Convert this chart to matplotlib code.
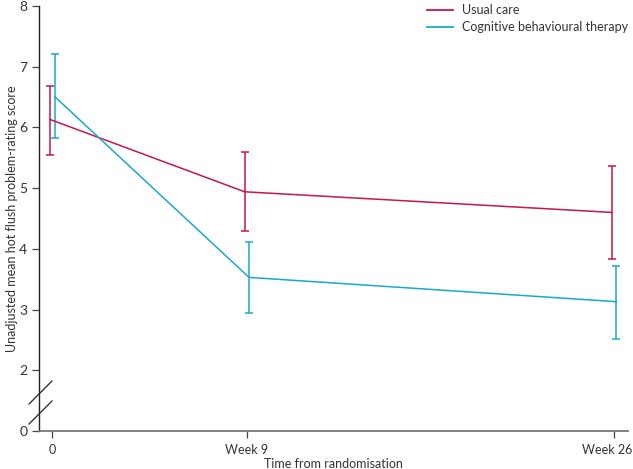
import matplotlib
matplotlib.use('Agg')
import matplotlib.pyplot as plt
import matplotlib.transforms as mtransforms
from matplotlib.lines import Line2D
import numpy as np

plt.rcParams['font.family'] = ['Lato', 'DejaVu Sans']

weeks = [0, 9, 26]
week_labels = ['0', 'Week 9', 'Week 26']

usual_mean = [6.13, 4.94, 4.60]
usual_low = [5.54, 4.29, 3.83]
usual_high = [6.68, 5.59, 5.37]

cbt_mean = [6.51, 3.53, 3.13]
cbt_low = [5.83, 2.94, 2.51]
cbt_high = [7.21, 4.12, 3.72]

# y ticks: bottom of the axis (broken) is labelled 0
ytick_pos = [1, 2, 3, 4, 5, 6, 7, 8]
ytick_labels = ['0', '2', '3', '4', '5', '6', '7', '8']

red = '#c2184d'
blue = '#1aa9c9'
text_col = '#333333'

W, H = 633, 469
fig = plt.figure(figsize=(W / 100, H / 100), dpi=100)
ax = fig.add_axes([39 / W, (H - 431) / H, (628 - 39) / W, (431 - 6) / H])

offset = 0.1
series = [
    ('Usual care', usual_mean, usual_low, usual_high, red, -offset),
    ('Cognitive behavioural therapy', cbt_mean, cbt_low, cbt_high, blue, offset),
]
for name, m, lo, hi, col, dx in series:
    x = np.array(weeks) + dx
    m = np.array(m)
    err = [m - np.array(lo), np.array(hi) - m]
    ax.errorbar(x, m, yerr=err, color=col, lw=1.1, elinewidth=1.1,
                capsize=3, capthick=1.1, label=name)

ax.set_xlim(-0.62, 26.64)
ax.set_ylim(1, 8)
ax.set_xticks(weeks)
ax.set_xticklabels(week_labels)
ax.set_yticks(ytick_pos)
ax.set_yticklabels(ytick_labels)

for s in ['top', 'right']:
    ax.spines[s].set_visible(False)
ax.spines['left'].set_color('#222222')
ax.spines['left'].set_linewidth(1.0)
ax.spines['bottom'].set_color('#777777')
ax.spines['bottom'].set_linewidth(1.3)
ax.tick_params(axis='both', direction='out', length=5, width=0.9,
               color='#444444', labelcolor=text_col, labelsize=9)
ax.tick_params(axis='x', pad=4)
ax.tick_params(axis='y', labelsize=10)

# last x label sits a little left of its tick, as in the original
last = ax.get_xticklabels()[-1]
last.set_transform(last.get_transform() +
                   mtransforms.ScaledTranslation(-5 / 72, 0, fig.dpi_scale_trans))

ax.set_xlabel('Time from randomisation', color=text_col, fontsize=9, labelpad=2)
ax.set_ylabel('Unadjusted mean hot flush problem-rating score', color=text_col,
              fontsize=9)
ax.yaxis.set_label_coords(-0.036, 0.5)

# axis break marks
for yc in [392.5, 412.5]:
    x0, x1 = 29, 52
    fig.add_artist(Line2D([x0 / W, x1 / W],
                          [1 - (yc + 11.5) / H, 1 - (yc - 11.5) / H],
                          color='#222222', lw=0.9))

handles = [Line2D([], [], color=red, lw=1.3), Line2D([], [], color=blue, lw=1.3)]
leg = ax.legend(handles, ['Usual care', 'Cognitive behavioural therapy'],
                loc='upper right', bbox_to_anchor=(1.008, 1.016), frameon=False,
                fontsize=9, handlelength=2.15, labelspacing=0.4,
                handletextpad=0.65, borderaxespad=0)
for t in leg.get_texts():
    t.set_color(text_col)

fig.savefig('out.png', dpi=100)
